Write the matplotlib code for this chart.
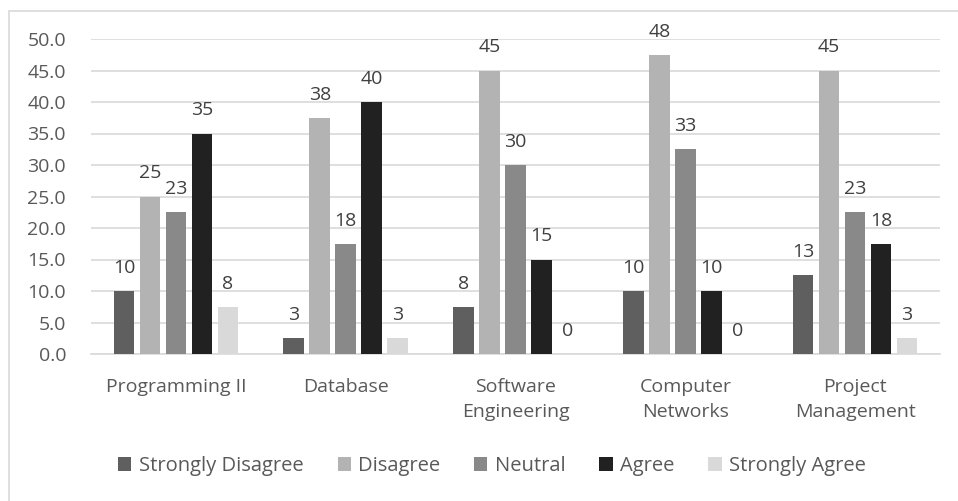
import math
import numpy as np
import matplotlib
matplotlib.use("Agg")
import matplotlib.pyplot as plt
from matplotlib.patches import Rectangle

courses = ["Programming II", "Database", "Software\nEngineering",
           "Computer\nNetworks", "Project\nManagement"]
responses = ["Strongly Disagree", "Disagree", "Neutral", "Agree", "Strongly Agree"]

strongly_disagree = [10, 2.5, 7.5, 10, 12.5]
disagree = [25, 37.5, 45, 47.5, 45]
neutral = [22.5, 17.5, 30, 32.5, 22.5]
agree = [35, 40, 15, 10, 17.5]
strongly_agree = [7.5, 2.5, 0, 0, 2.5]

series = [strongly_disagree, disagree, neutral, agree, strongly_agree]
colors = ["#5f5f5f", "#b3b3b3", "#898989", "#212121", "#d9d9d9"]

plt.rcParams["font.family"] = ["Open Sans", "DejaVu Sans"]
FS = 14

W, H = 958, 501
fig = plt.figure(figsize=(W / 100, H / 100), dpi=100)
ax = fig.add_axes([91 / W, 1 - 354 / H, (940 - 91) / W, (354 - 39) / H])

# chart frame
fig.patches.append(Rectangle((8.5 / W, -0.1), 1.2, 1 - 10.5 / H + 0.1,
                             transform=fig.transFigure, fill=False,
                             edgecolor="#d9d9d9", linewidth=1.2))

x = np.arange(len(courses))
step = 0.153
width = 0.121
for i, (vals, name, c) in enumerate(zip(series, responses, colors)):
    pos = x + (i - 2) * step
    bars = ax.bar(pos, vals, width, color=c, label=name, zorder=3)
    for b, v in zip(bars, vals):
        # labels rounded half up, like the spreadsheet's "0" number format
        ax.annotate(str(int(math.floor(v + 0.5))),
                    (b.get_x() + b.get_width() / 2, v),
                    xytext=(0, 13), textcoords="offset points",
                    ha="center", va="baseline", fontsize=FS, color="#404040")

ax.set_xlim(-0.5, len(courses) - 0.5)
ax.set_ylim(0, 50)
ax.set_yticks(np.arange(0, 50.1, 5))
ax.set_yticklabels([f"{v:.1f}" for v in np.arange(0, 50.1, 5)])
ax.set_xticks(x)
ax.set_xticklabels(courses, linespacing=1.55)
ax.grid(axis="y", color="#d9d9d9", linewidth=1.2, zorder=0)
for s in ["top", "right", "left"]:
    ax.spines[s].set_visible(False)
ax.spines["bottom"].set_color("#d9d9d9")
ax.spines["bottom"].set_linewidth(1.2)
ax.tick_params(axis="both", length=0, labelsize=FS, labelcolor="#595959")
ax.tick_params(axis="y", pad=18)
ax.tick_params(axis="x", pad=17)

ax.legend(loc="center", bbox_to_anchor=(492 / W, 1 - 466 / H), bbox_transform=fig.transFigure,
          ncol=5, frameon=False, fontsize=14.5, labelcolor="#595959",
          handlelength=0.65, handleheight=0.65, handletextpad=0.36, columnspacing=1.7)

fig.savefig("out.png", dpi=100)
